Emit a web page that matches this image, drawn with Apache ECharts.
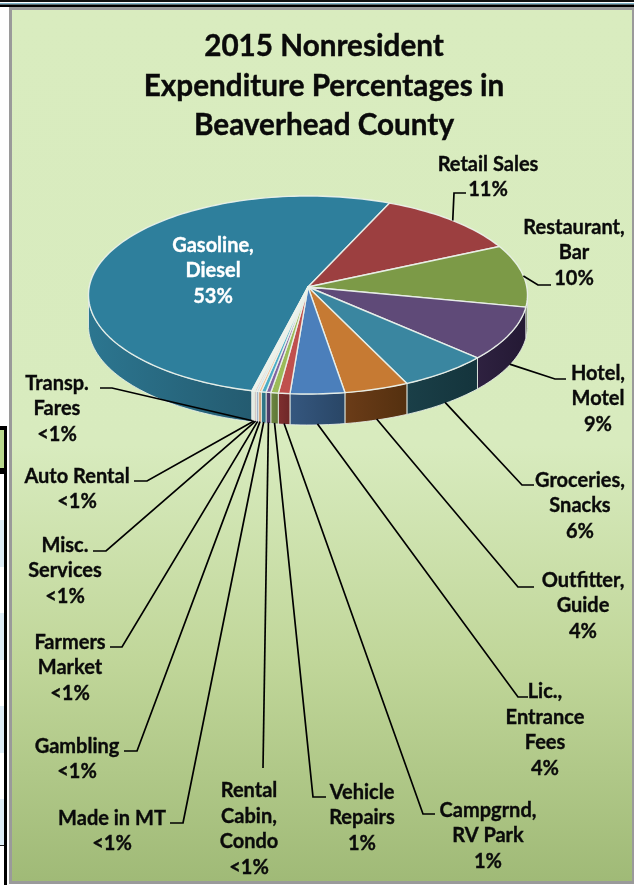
<!DOCTYPE html>
<html>
<head>
<meta charset="utf-8">
<style>html,body{margin:0;padding:0;background:#fff}#c{width:634px;height:885px}</style>
<script src="https://cdn.jsdelivr.net/npm/echarts@6/dist/echarts.min.js"></script>
</head>
<body>
<div id="c"></div>
<script>
const titleText = "2015 Nonresident\nExpenditure Percentages in\nBeaverhead County";
const categories = ["Gasoline, Diesel","Retail Sales","Restaurant, Bar","Hotel, Motel","Groceries, Snacks","Outfitter, Guide","Lic., Entrance Fees","Campgrnd, RV Park","Vehicle Repairs","Rental Cabin, Condo","Made in MT","Gambling","Farmers Market","Misc. Services","Auto Rental","Transp. Fares"];
const values = [51.95, 10.8, 10.1, 9, 6.6, 4.75, 4, 0.85, 0.55, 0.35, 0.35, 0.2, 0.15, 0.15, 0.1, 0.1];
const labelTexts = ["Gasoline,\nDiesel\n53%","Retail Sales\n11%","Restaurant,\nBar\n10%","Hotel,\nMotel\n9%","Groceries,\nSnacks\n6%","Outfitter,\nGuide\n4%","Lic.,\nEntrance\nFees\n4%","Campgrnd,\nRV Park\n1%","Vehicle\nRepairs\n1%","Rental\nCabin,\nCondo\n<1%","Made in MT\n<1%","Gambling\n<1%","Farmers\nMarket\n<1%","Misc.\nServices\n<1%","Auto Rental\n<1%","Transp.\nFares\n<1%"];
const topColors = ["#2e7f9c","#9c3f40","#7c9a47","#5f4a78","#3a86a0","#c67a33","#4b7fbb","#c0504d","#9bbb59","#8064a2","#4bacc6","#f5b888","#b9cde8","#e6b5b4","#d7e4bc","#f4f4f4"];
const wallFrom = ["#2c7690","#5e2526","#4d612b","#2e2140","#1a3f48","#6b3c18","#35577f","#7f2f2f","#6d8740","#54406e","#327d90","#d9a577","#9db2cc","#d8c9c8","#c4d2a8","#eeeeee"];
const wallTo = ["#245b70","#4a1c1d","#3c4c21","#241934","#14343c","#54300f","#294666","#6e2828","#5d7536","#483760","#2b6c7d","#c8976a","#8ea3bd","#c9bab9","#b5c39a","#e4e4e4"];
const labelCenters = [[213,271],[488,177],[574,253],[598,399],[580,506],[583,606],[545,730],[488,836],[362,818],[249,829],[112,831],[77,759],[70,668],[65,571],[77,489],[57,409]];
const elbows = [null,[[454,193],[466,193]],[[538,285],[551,285]],[[555,379],[566,379]],[[522,485],[534,485]],[[518,587],[534,587]],[[518,697],[528,697]],[[423,814],[435,814]],[[313,797],[326,797]],[[263,768]],[[183,823],[170,823]],[[137,751],[124,751]],[[122,647],[110,647]],[[106,551],[93,551]],[[147,481],[134,481]],[[112,388],[100,388]]];

const pieCenter = [308, 295], apex = [308, 287], radii = [219.5, 99], depth = 31, startAngle = 194.8;
const total = values.reduce((a, b) => a + b, 0);
const rad = d => d * Math.PI / 180;
const edge = (a, dy) => [pieCenter[0] + radii[0] * Math.sin(rad(a)), pieCenter[1] - radii[1] * Math.cos(rad(a)) + (dy || 0)];
function arc(a0, a1, dy) {
  const n = Math.max(2, Math.ceil(Math.abs(a1 - a0) / 1.5)), p = [];
  for (let i = 0; i <= n; i++) p.push(edge(a0 + (a1 - a0) * i / n, dy));
  return p;
}
const font = 'bold 20px Lato, "Open Sans", sans-serif';
function sliceAngles(i) {
  let s = startAngle;
  for (let k = 0; k < i; k++) s += values[k] / total * 360;
  return [s, s + values[i] / total * 360];
}
function wallRange(a0, a1) {
  const out = [];
  for (const [lo, hi] of [[90, 270], [450, 630]]) {
    const s = Math.max(a0, lo), e = Math.min(a1, hi);
    if (e > s) out.push([s, e]);
  }
  return out;
}
function renderItem(params, api) {
  const i = params.dataIndex;
  const [a0, a1] = sliceAngles(i);
  const mid = (a0 + a1) / 2;
  const children = [];
  wallRange(a0, a1).forEach(([s, e]) => {
    const t = arc(s, e, 0), b = arc(s, e, depth).reverse();
    const xs = t.map(p => p[0]);
    const x0 = Math.min(...xs), x1 = Math.max(...xs);
    children.push({
      type: 'polygon', z2: 1,
      shape: { points: t.concat(b) },
      style: {
        fill: { type: 'linear', x: x0, y: 0, x2: x1 + 0.01, y2: 0, global: true,
                colorStops: [{ offset: 0, color: wallFrom[i] }, { offset: 1, color: wallTo[i] }] },
        stroke: 'rgba(232,238,232,0.85)', lineWidth: 1
      }
    });
  });
  children.push({
    type: 'polygon', z2: 2,
    shape: { points: [apex].concat(arc(a0, a1, 0)) },
    style: { fill: topColors[i], stroke: 'rgba(236,242,236,0.92)', lineWidth: 1.4, lineJoin: 'round' }
  });
  if (elbows[i]) {
    const na = ((mid % 360) + 360) % 360;
    const start = edge(mid, na > 90 && na < 270 ? depth - 1 : 0);
    children.push({
      type: 'polyline', z2: 3,
      shape: { points: [start].concat(elbows[i]) },
      style: { fill: null, stroke: '#000', lineWidth: 1.7 }
    });
  }
  const ink = i === 0 ? '#fff' : '#0a0a0a';
  children.push({
    type: 'text', z2: 4,
    x: labelCenters[i][0], y: labelCenters[i][1],
    style: { text: labelTexts[i], font, lineHeight: 25.8, align: 'center', verticalAlign: 'middle', fill: ink, stroke: ink, lineWidth: 0.35 }
  });
  return { type: 'group', children };
}

const chart = echarts.init(document.getElementById('c'), null, { renderer: 'canvas' });
const r = (x, y, w, h, fill) => ({ type: 'rect', silent: true, shape: { x, y, width: w, height: h }, style: { fill } });
const page = [
  r(0, 0, 634, 885, '#fff'),
  r(0, 0, 634, 2, '#111'), r(0, 3, 634, 1.5, '#7fb3c8'), r(0, 4.5, 634, 2.5, '#000'),
  r(0, 426, 6, 4, '#000'), r(0, 430, 5, 38, '#b9d98c'), r(0, 468, 6, 6, '#000'),
  r(0, 520, 4, 47, '#deedf6'), r(0, 613, 4, 47, '#deedf6'), r(0, 706, 4, 47, '#deedf6'), r(0, 799, 4, 46, '#deedf6'),
  r(0, 845, 4, 1, '#222'), r(4, 426, 3, 459, '#000'),
  r(9, 7, 625, 877, '#9a9a9a'),
  {
    type: 'rect', silent: true, shape: { x: 12, y: 10, width: 620, height: 871 },
    style: { fill: { type: 'linear', x: 0, y: 0, x2: 0, y2: 1, colorStops: [
      { offset: 0, color: '#d9ecbf' }, { offset: 0.5, color: '#d8ebbe' }, { offset: 0.75, color: '#c0d699' }, { offset: 1, color: '#a0ba77' }] } }
  }
];
chart.setOption({
  animation: false,
  graphic: { elements: page.map(e => Object.assign(e, { z: 0 })) },
  title: {
    text: titleText, left: 319, top: 22, textAlign: 'center',
    textStyle: { fontFamily: 'Lato, "Open Sans", sans-serif', fontWeight: 'bold', fontSize: 29.7, lineHeight: 39.5, color: '#0a0a0a', textBorderColor: '#0a0a0a', textBorderWidth: 0.4 }
  },
  series: [{
    type: 'custom', coordinateSystem: 'none', silent: true, z: 2,
    data: categories.map((name, i) => ({ name, value: values[i] })),
    renderItem
  }]
});
</script>
</body>
</html>
